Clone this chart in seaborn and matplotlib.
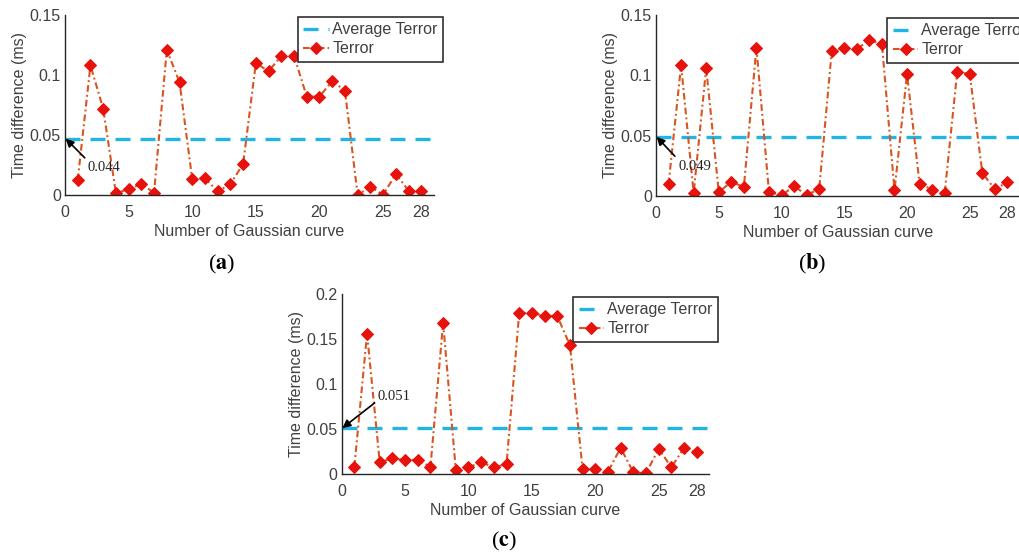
import numpy as np
import pandas as pd
import matplotlib
matplotlib.use("Agg")
import matplotlib.pyplot as plt
import seaborn as sns

# ---------------- data ----------------
curve_no = list(range(1, 29))
terror_a = [0.0125, 0.108, 0.072, 0.0014, 0.005, 0.009, 0.002, 0.121, 0.094, 0.013,
            0.014, 0.003, 0.009, 0.026, 0.110, 0.103, 0.116, 0.116, 0.082, 0.082,
            0.095, 0.087, 0.0, 0.007, 0.0, 0.0175, 0.0036, 0.0033]
terror_b = [0.0097, 0.1085, 0.0025, 0.106, 0.0033, 0.0116, 0.0075, 0.123, 0.0033, 0.0006,
            0.008, 0.001, 0.0055, 0.120, 0.123, 0.122, 0.129, 0.126, 0.0047, 0.101,
            0.0102, 0.0053, 0.0025, 0.103, 0.101, 0.019, 0.0055, 0.0116]
terror_c = [0.0081, 0.156, 0.013, 0.0174, 0.0156, 0.0156, 0.008, 0.168, 0.0044, 0.0074,
            0.013, 0.0074, 0.011, 0.179, 0.179, 0.1756, 0.1756, 0.143, 0.0052, 0.0056,
            0.0026, 0.029, 0.0019, 0.0007, 0.028, 0.0074, 0.029, 0.024]
avg_line = [0.047, 0.049, 0.051]
avg_label = ["0.044", "0.049", "0.051"]
panel_tags = ["a", "b", "c"]
x_ticks = [0, 5, 10, 15, 20, 25, 28]
y_ticks_ab = [0, 0.05, 0.1, 0.15]
y_ticklabels_ab = ["0", "0.05", "0.1", "0.15"]
y_ticks_c = [0, 0.05, 0.1, 0.15, 0.2]
y_ticklabels_c = ["0", "0.05", "0.1", "0.15", "0.2"]

# ---------------- style ----------------
sns.set_theme(style="white")
plt.rcParams["font.family"] = ["Liberation Sans", "DejaVu Sans"]
plt.rcParams["mathtext.fontset"] = "stix"

TXT = "#404040"
SPINE = "#262626"
CYAN = "#22B4E2"
ORANGE = "#D9541E"
RED = "#E8120C"

fig = plt.figure(figsize=(10.19, 5.53), dpi=100)
W, H = 1019, 553

def px_axes(left, right, bottom, top):
    return fig.add_axes([left / W, 1 - bottom / H, (right - left) / W, (bottom - top) / H])

ax_a = px_axes(65, 434, 195, 15)
ax_b = px_axes(656, 1020, 196, 15)
ax_c = px_axes(341.7, 709.4, 474, 294)

panels = [
    (ax_a, terror_a, y_ticks_ab, y_ticklabels_ab, 0.15),
    (ax_b, terror_b, y_ticks_ab, y_ticklabels_ab, 0.15),
    (ax_c, terror_c, y_ticks_c, y_ticklabels_c, 0.2),
]

legend_pos = [(0.631, 0.99), (0.635, 0.985), (0.629, 0.985)]
# annotation: (text xy, arrow tail xy) in data coords
annot = [
    ((1.8, 0.023), (1.55, 0.031)),
    ((1.8, 0.0245), (1.5, 0.033)),
    ((2.8, 0.086), (2.6, 0.079)),
]
tag_pos = [(222, 264), (812, 264), (504, 541)]

for i, (ax, vals, yt, ytl, ymax) in enumerate(panels):
    df = pd.DataFrame({"n": curve_no, "t": vals})
    avg_df = pd.DataFrame({"n": [0, 29], "t": [avg_line[i]] * 2})
    sns.lineplot(data=avg_df, x="n", y="t", ax=ax, color=CYAN, lw=2.4,
                 linestyle=(0, (4.5, 3)), label="Average Terror")
    sns.lineplot(data=df, x="n", y="t", ax=ax, color=ORANGE, lw=1.5,
                 linestyle=(0, (3.2, 1.5, 0.9, 1.5)), marker="D", markersize=5.8,
                 markerfacecolor=RED, markeredgecolor=RED, label="Terror")
    ax.set_xlim(0, 29)
    ax.set_ylim(0, ymax)
    ax.set_xticks(x_ticks)
    ax.set_xticklabels([str(v) for v in x_ticks])
    ax.set_yticks(yt)
    ax.set_yticklabels(ytl)
    ax.set_xlabel("Number of Gaussian curve", fontsize=11.5, color=TXT, labelpad=3)
    ax.set_ylabel("Time difference (ms)", fontsize=11.5, color=TXT, labelpad=2)
    ax.tick_params(direction="in", length=4, width=0.9, colors=SPINE,
                   labelcolor=TXT, labelsize=11.5)
    ax.tick_params(axis="x", pad=7)
    ax.tick_params(axis="y", pad=3)
    for s in ["top", "right"]:
        ax.spines[s].set_visible(False)
    for s in ["left", "bottom"]:
        ax.spines[s].set_color(SPINE)
        ax.spines[s].set_linewidth(1.0)
    leg = ax.legend(loc="upper left", bbox_to_anchor=legend_pos[i], fontsize=11.5,
                    frameon=True, fancybox=False, framealpha=1, edgecolor="#303030",
                    handlelength=1.6, handletextpad=0.2, borderpad=0.35,
                    labelspacing=0.25, borderaxespad=0)
    leg.get_frame().set_linewidth(1.2)
    for t in leg.get_texts():
        t.set_color(TXT)
    (tx, ty), (ax_tail, ay_tail) = annot[i]
    ax.annotate("", xy=(0.05, avg_line[i]), xytext=(ax_tail, ay_tail),
                arrowprops=dict(arrowstyle="-|>", color="black", lw=1.2,
                                mutation_scale=12, shrinkA=0, shrinkB=0))
    ax.text(tx, ty, avg_label[i], fontsize=10.5, family="Liberation Serif",
            color="#222222", va="center", ha="left")
    fig.text(tag_pos[i][0] / W, 1 - tag_pos[i][1] / H, "($\\mathbf{%s}$)" % panel_tags[i],
             ha="center", va="center", fontsize=16, family="Liberation Serif",
             color="black")

fig.savefig("out.png", dpi=100)
